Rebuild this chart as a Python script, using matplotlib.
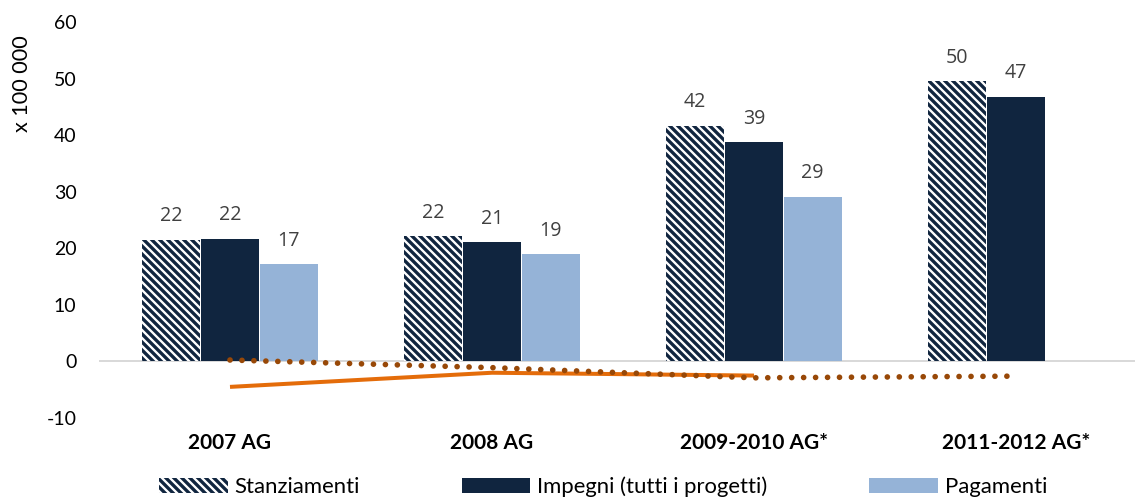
import numpy as np
import matplotlib
matplotlib.use('Agg')
import matplotlib.pyplot as plt
from matplotlib.patches import Patch

# Data (x 100 000)
categories = ['2007 AG', '2008 AG', '2009-2010 AG*', '2011-2012 AG*']
stanziamenti = [21.5, 22.2, 41.7, 49.6]
impegni = [21.7, 21.1, 38.7, 46.8]
pagamenti = [17.2, 19.0, 29.1, np.nan]
linea_solida = [-4.5, -2.0, -2.5]
linea_punti = [0.25, -1.1, -2.9, -2.6]
y_ticks = [-10, 0, 10, 20, 30, 40, 50, 60]

navy = '#10253F'
light_blue = '#95B3D7'
orange = '#E46C0A'
brown = '#984807'

plt.rcParams['font.family'] = ['Lato', 'DejaVu Sans']
plt.rcParams['hatch.linewidth'] = 2.0
plt.rcParams['axes.unicode_minus'] = False

DPI = 120
fig = plt.figure(figsize=(1135 / DPI, 499 / DPI), dpi=DPI)
ax = fig.add_axes([99 / 1135, 81 / 499, 1048 / 1135, 396 / 499])

x = np.arange(len(categories))
w = 0.222
off = 0.224
hatch = '\\' * 5

ax.axhline(0, color='#D9D9D9', lw=1.2, zorder=1)
b1 = ax.bar(x - off, stanziamenti, w, color='white', edgecolor=navy,
            hatch=hatch, linewidth=0, zorder=2)
b2 = ax.bar(x, impegni, w, color=navy, linewidth=0, zorder=2)
b3 = ax.bar(x + off, pagamenti, w, color=light_blue, linewidth=0, zorder=2)

for bars, vals in [(b1, stanziamenti), (b2, impegni), (b3, pagamenti)]:
    for rect, v in zip(bars, vals):
        if np.isnan(v):
            continue
        ax.annotate(f'{round(v):.0f}', (rect.get_x() + rect.get_width() / 2, v),
                    xytext=(0, 11), textcoords='offset points',
                    ha='center', va='baseline', fontsize=11.8,
                    color='#404040', family=['Open Sans', 'DejaVu Sans'])

ax.plot(x[:len(linea_solida)], linea_solida, color=orange, lw=2.4,
        solid_capstyle='butt', zorder=3)
ax.plot(x, linea_punti, color=brown, lw=3.4, linestyle=(0, (0.01, 2.1)),
        dash_capstyle='round', zorder=4)

ax.set_xlim(-0.5, 3.5)
ax.set_ylim(-10, 60)
ax.set_yticks(y_ticks)
ax.set_xticks(x)
ax.set_xticklabels(categories, fontsize=12.5, fontweight='bold')
ax.tick_params(axis='x', length=0, pad=9)
ax.tick_params(axis='y', length=0, pad=13.5, labelsize=11.7)
for s in ax.spines.values():
    s.set_visible(False)

fig.text(22 / 1135, 1 - 84 / 499, 'x 100 000', rotation=90, ha='center',
         va='center', fontsize=13)

handles = [Patch(facecolor='white', edgecolor=navy, hatch=hatch, lw=0),
           Patch(facecolor=navy, lw=0),
           Patch(facecolor=light_blue, lw=0)]
labels = ['Stanziamenti', 'Impegni (tutti i progetti)', 'Pagamenti']
fig.legend(handles, labels, ncol=3, loc='center',
           bbox_to_anchor=(603 / 1135, 1 - 487 / 499), frameon=False,
           fontsize=13.3, handlelength=3.1, handleheight=0.63,
           handletextpad=0.3, columnspacing=4.6, borderpad=0)

fig.savefig('out.png', dpi=DPI)
